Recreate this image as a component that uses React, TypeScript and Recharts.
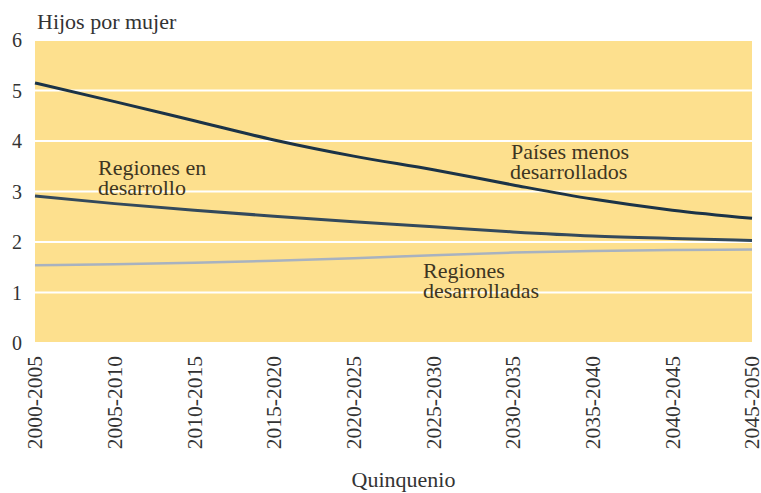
import React from 'react';
import { LineChart, Line, XAxis, YAxis, CartesianGrid } from 'recharts';

const periods = [
  '2000-2005', '2005-2010', '2010-2015', '2015-2020', '2020-2025',
  '2025-2030', '2030-2035', '2035-2040', '2040-2045', '2045-2050',
];
const menosDesarrollados = [5.15, 4.78, 4.4, 4.02, 3.7, 3.43, 3.13, 2.85, 2.63, 2.47];
const enDesarrollo = [2.91, 2.76, 2.63, 2.51, 2.4, 2.3, 2.2, 2.12, 2.07, 2.03];
const desarrolladas = [1.54, 1.56, 1.59, 1.63, 1.68, 1.74, 1.79, 1.82, 1.84, 1.85];
const yTicks = [0, 1, 2, 3, 4, 5, 6];

const data = periods.map((p, i) => ({
  periodo: p,
  menos: menosDesarrollados[i],
  desarrollo: enDesarrollo[i],
  desarrolladas: desarrolladas[i],
}));

const FONT = "'Liberation Serif'";
const NOTE = '#3d3522';
const serif = { fontFamily: FONT };

const RotatedTick = (props: any) => {
  const { x, y, payload } = props;
  return (
    <text
      x={x}
      y={y}
      dy="0.34em"
      textAnchor="end"
      transform={`rotate(-90 ${x} ${y})`}
      fill="#333"
      fontSize={21.5}
      style={serif}
    >
      {payload.value}
    </text>
  );
};

const App: React.FC = () => {
  return (
    <div style={{ position: 'absolute', left: 0, top: 0, width: 761, height: 493, background: '#fff' }}>
      <LineChart
        width={761}
        height={493}
        data={data}
        margin={{ top: 40, right: 9, left: 0, bottom: 0 }}
      >
        <CartesianGrid vertical={false} stroke="#ffffff" strokeWidth={2} fill="#fde08e" fillOpacity={1} />
        <XAxis
          dataKey="periodo"
          interval={0}
          height={150}
          axisLine={false}
          tickLine={false}
          tickSize={0}
          tickMargin={13}
          tick={<RotatedTick />}
          label={{
            value: 'Quinquenio',
            position: 'insideBottom',
            offset: 6,
            dx: 10,
            fill: '#333',
            fontSize: 22,
            style: serif,
          }}
        />
        <YAxis
          width={35}
          domain={[0, 6]}
          ticks={yTicks}
          axisLine={false}
          tickLine={false}
          tickSize={0}
          tickMargin={13}
          tick={{ fill: '#333', fontSize: 20, style: serif }}
        />
        <Line type="monotone" dataKey="desarrolladas" stroke="#a8b2c0" strokeWidth={2.5} dot={false} isAnimationActive={false} />
        <Line type="monotone" dataKey="desarrollo" stroke="#33495c" strokeWidth={3} dot={false} isAnimationActive={false} />
        <Line type="monotone" dataKey="menos" stroke="#1b3347" strokeWidth={3} dot={false} isAnimationActive={false} />
      </LineChart>
      <svg
        width={761}
        height={493}
        style={{ position: 'absolute', left: 0, top: 0, pointerEvents: 'none' }}
      >
        <text x={37} y={29} fontSize={22} fill="#333" style={serif}>Hijos por mujer</text>
        <text x={98} y={175} fontSize={22} fill={NOTE} style={serif}>Regiones en</text>
        <text x={98} y={195} fontSize={22} fill={NOTE} style={serif}>desarrollo</text>
        <text x={511} y={159} fontSize={22} fill={NOTE} style={serif}>Países menos</text>
        <text x={510} y={179} fontSize={22} fill={NOTE} style={serif}>desarrollados</text>
        <text x={423} y={278} fontSize={22} fill={NOTE} style={serif}>Regiones</text>
        <text x={423} y={298} fontSize={22} fill={NOTE} style={serif}>desarrolladas</text>
      </svg>
    </div>
  );
};

export default App;
